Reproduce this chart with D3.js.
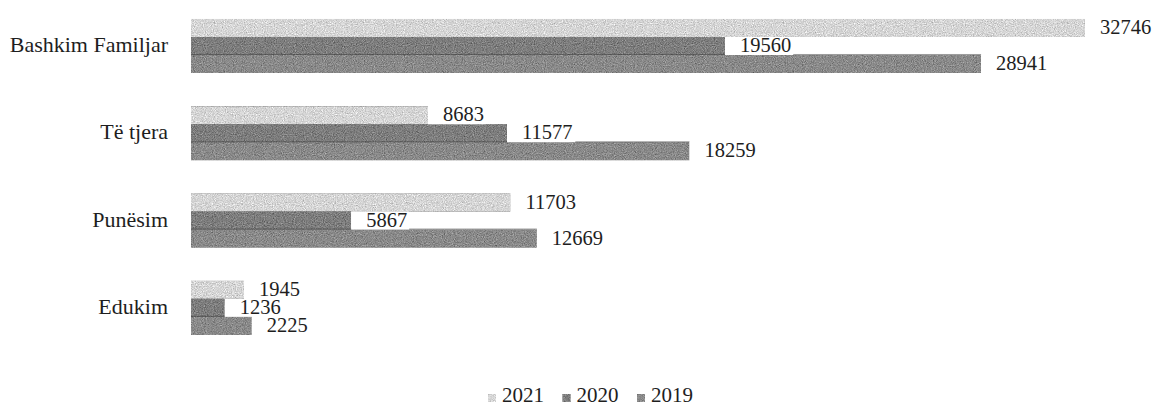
<!DOCTYPE html>
<html>
<head>
<meta charset="utf-8">
<script src="https://cdn.jsdelivr.net/npm/d3@7"></script>
</head>
<body style="margin:0">
<svg id="chart" width="1160" height="409" style="display:block"></svg>
<script>
// Categories and series
var categories = ['Bashkim Familjar', 'T\u00eb tjera', 'Pun\u00ebsim', 'Edukim']
var years = ['2021', '2020', '2019']
var values2021 = [32746, 8683, 11703, 1945]
var values2020 = [19560, 11577, 5867, 1236]
var values2019 = [28941, 18259, 12669, 2225]

var seriesValues = { '2021': values2021, '2020': values2020, '2019': values2019 }
var yearColor = { '2021': '#d6d6d6', '2020': '#7e7e7e', '2019': '#8a8a8a' }
var fontFamily = 'Liberation Serif'
var textColor = '#1e1e1e'
var digitW = 0.5 // digit advance, in em

var svg = d3.select('#chart')

// grainy, scanned look for the bars
var grain = svg.append('defs').append('filter').attr('id', 'grain')
  .attr('x', 0).attr('y', 0).attr('width', 1).attr('height', 1)
  .attr('color-interpolation-filters', 'sRGB')
grain.append('feTurbulence').attr('type', 'fractalNoise')
  .attr('baseFrequency', 0.9).attr('numOctaves', 2).attr('seed', 7).attr('result', 'noise')
grain.append('feColorMatrix').attr('in', 'noise').attr('type', 'matrix')
  .attr('values', '0.33 0.33 0.33 0 0  0.33 0.33 0.33 0 0  0.33 0.33 0.33 0 0  0 0 0 0 1')
  .attr('result', 'gray')
grain.append('feComposite').attr('in', 'SourceGraphic').attr('in2', 'gray')
  .attr('operator', 'arithmetic')
  .attr('k1', 0).attr('k2', 1).attr('k3', 0.8).attr('k4', -0.4).attr('result', 'mix')
grain.append('feComposite').attr('in', 'mix').attr('in2', 'SourceAlpha').attr('operator', 'in')

// scales
var x = d3.scaleLinear().domain([0, 35000]).range([191, 191 + 0.0273 * 35000])
var y = d3.scaleBand().domain(categories).range([2.4, 351.4])
  .paddingInner(0.381).paddingOuter(0.19)
var ySub = d3.scaleBand().domain(years).range([0, y.bandwidth()])

var rows = []
categories.forEach(function(c, i) {
  years.forEach(function(yr) {
    rows.push({ cat: c, year: yr, value: seriesValues[yr][i] })
  })
})

// bars
svg.append('g').selectAll('rect')
  .data(rows)
  .join('rect')
  .attr('x', x(0))
  .attr('y', function(d) { return y(d.cat) + ySub(d.year) })
  .attr('width', function(d) { return x(d.value) - x(0) })
  .attr('height', ySub.bandwidth())
  .attr('fill', function(d) { return yearColor[d.year] })
  .attr('filter', 'url(#grain)')

// faint dark seam between 2020 and 2019 bars (scan artefact)
svg.append('g').selectAll('line')
  .data(rows.filter(function(d) { return d.year === '2019' }))
  .join('line')
  .attr('x1', x(0))
  .attr('x2', function(d) { return x(d.value) })
  .attr('y1', function(d) { return y(d.cat) + ySub(d.year) - 0.5 })
  .attr('y2', function(d) { return y(d.cat) + ySub(d.year) - 0.5 })
  .attr('stroke', '#3a3a3a').attr('stroke-opacity', 0.5).attr('stroke-width', 1)

// value labels with white boxes
var labelSize = 20.5
var labels = svg.append('g').selectAll('g')
  .data(rows)
  .join('g')
labels.append('rect')
  .attr('fill', '#fff')
  .attr('x', function(d) { return x(d.value) })
  .attr('y', function(d) { return y(d.cat) + ySub(d.year) })
  .attr('width', function(d) { return String(d.value).length * digitW * labelSize + 17 })
  .attr('height', ySub.bandwidth())
labels.append('text')
  .attr('x', function(d) { return x(d.value) + 15 })
  .attr('y', function(d) { return y(d.cat) + ySub(d.year) + ySub.bandwidth() / 2 + 6 })
  .attr('font-family', fontFamily)
  .attr('font-size', labelSize)
  .attr('fill', textColor)
  .text(function(d) { return d.value })

// category labels
svg.append('g').selectAll('text')
  .data(categories)
  .join('text')
  .attr('x', 168)
  .attr('y', function(c) { return y(c) + y.bandwidth() / 2 + 6 })
  .attr('text-anchor', 'end')
  .attr('font-family', fontFamily)
  .attr('font-size', 22)
  .attr('fill', textColor)
  .text(function(c) { return c })

// legend, laid out from the reference's item spacing
var legendX = d3.scalePoint().domain(years).range([488, 637])
var legend = svg.append('g').selectAll('g')
  .data(years)
  .join('g')
  .attr('transform', function(yr) { return 'translate(' + legendX(yr) + ',0)' })
legend.append('rect')
  .attr('x', 0).attr('y', 394).attr('width', 8).attr('height', 8)
  .attr('fill', function(yr) { return yearColor[yr] }).attr('filter', 'url(#grain)')
legend.append('text')
  .attr('x', 14).attr('y', 402)
  .attr('font-family', fontFamily)
  .attr('font-size', 21)
  .attr('fill', textColor)
  .text(function(yr) { return yr })
</script>
</body>
</html>
